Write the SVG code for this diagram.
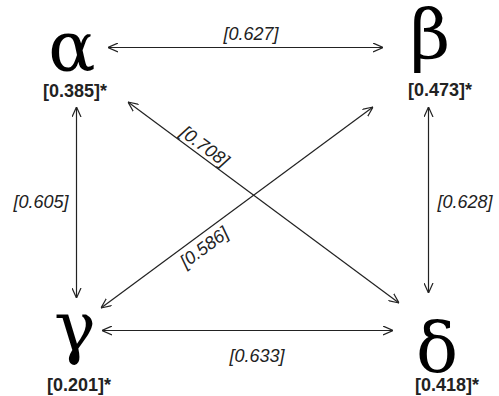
<svg xmlns="http://www.w3.org/2000/svg" width="499" height="396" viewBox="0 0 499 396">
<style>
.g{font-family:"DejaVu Serif",serif;font-size:70px;fill:#000;text-anchor:middle}
.v{font-family:"Liberation Sans",Arial,sans-serif;font-size:18px;font-weight:bold;fill:#222;text-anchor:middle}
.e{font-family:"Liberation Sans",Arial,sans-serif;font-size:18px;font-style:italic;fill:#222;text-anchor:middle}
.c line{stroke:#222;stroke-width:1.2;marker-start:url(#a);marker-end:url(#a)}
</style>
<defs>
<marker id="a" viewBox="0 0 10 10" refX="10" refY="5" markerWidth="10" markerHeight="10" markerUnits="userSpaceOnUse" orient="auto-start-reverse">
<path d="M0,0.5 L10,5 L0,9.5" fill="none" stroke="#222" stroke-width="1.2"/>
</marker>
</defs>
<rect width="499" height="396" fill="#fff"/>
<g id="alpha"><text class="g" x="72" y="70">α</text><text class="v" x="75" y="97">[0.385]*</text></g>
<g id="beta"><text class="g" x="430" y="59">β</text><text class="v" x="440" y="96">[0.473]*</text></g>
<g id="gamma"><text class="g" x="75" y="351">γ</text><text class="v" x="79" y="391">[0.201]*</text></g>
<g id="delta"><text class="g" x="437" y="372">δ</text><text class="v" x="447" y="391">[0.418]*</text></g>
<g id="connectors" class="c">
<line x1="108" y1="47.5" x2="383" y2="47.5"/>
<line x1="102" y1="330.5" x2="393" y2="330.5"/>
<line x1="76.5" y1="107" x2="76.5" y2="298"/>
<line x1="428.5" y1="107" x2="428.5" y2="293"/>
<line x1="128" y1="102" x2="399" y2="303"/>
<line x1="373" y1="107" x2="101" y2="308"/>
</g>
<g id="labels">
<text class="e" x="251" y="40">[0.627]</text>
<text class="e" x="41" y="208">[0.605]</text>
<text class="e" x="465" y="208">[0.628]</text>
<text class="e" x="257" y="362">[0.633]</text>
<text class="e" transform="translate(205,146) rotate(36.6)" x="0" y="6.5">[0.708]</text>
<text class="e" transform="translate(204,247) rotate(-36.5)" x="0" y="6.5">[0.586]</text>
</g>
</svg>
